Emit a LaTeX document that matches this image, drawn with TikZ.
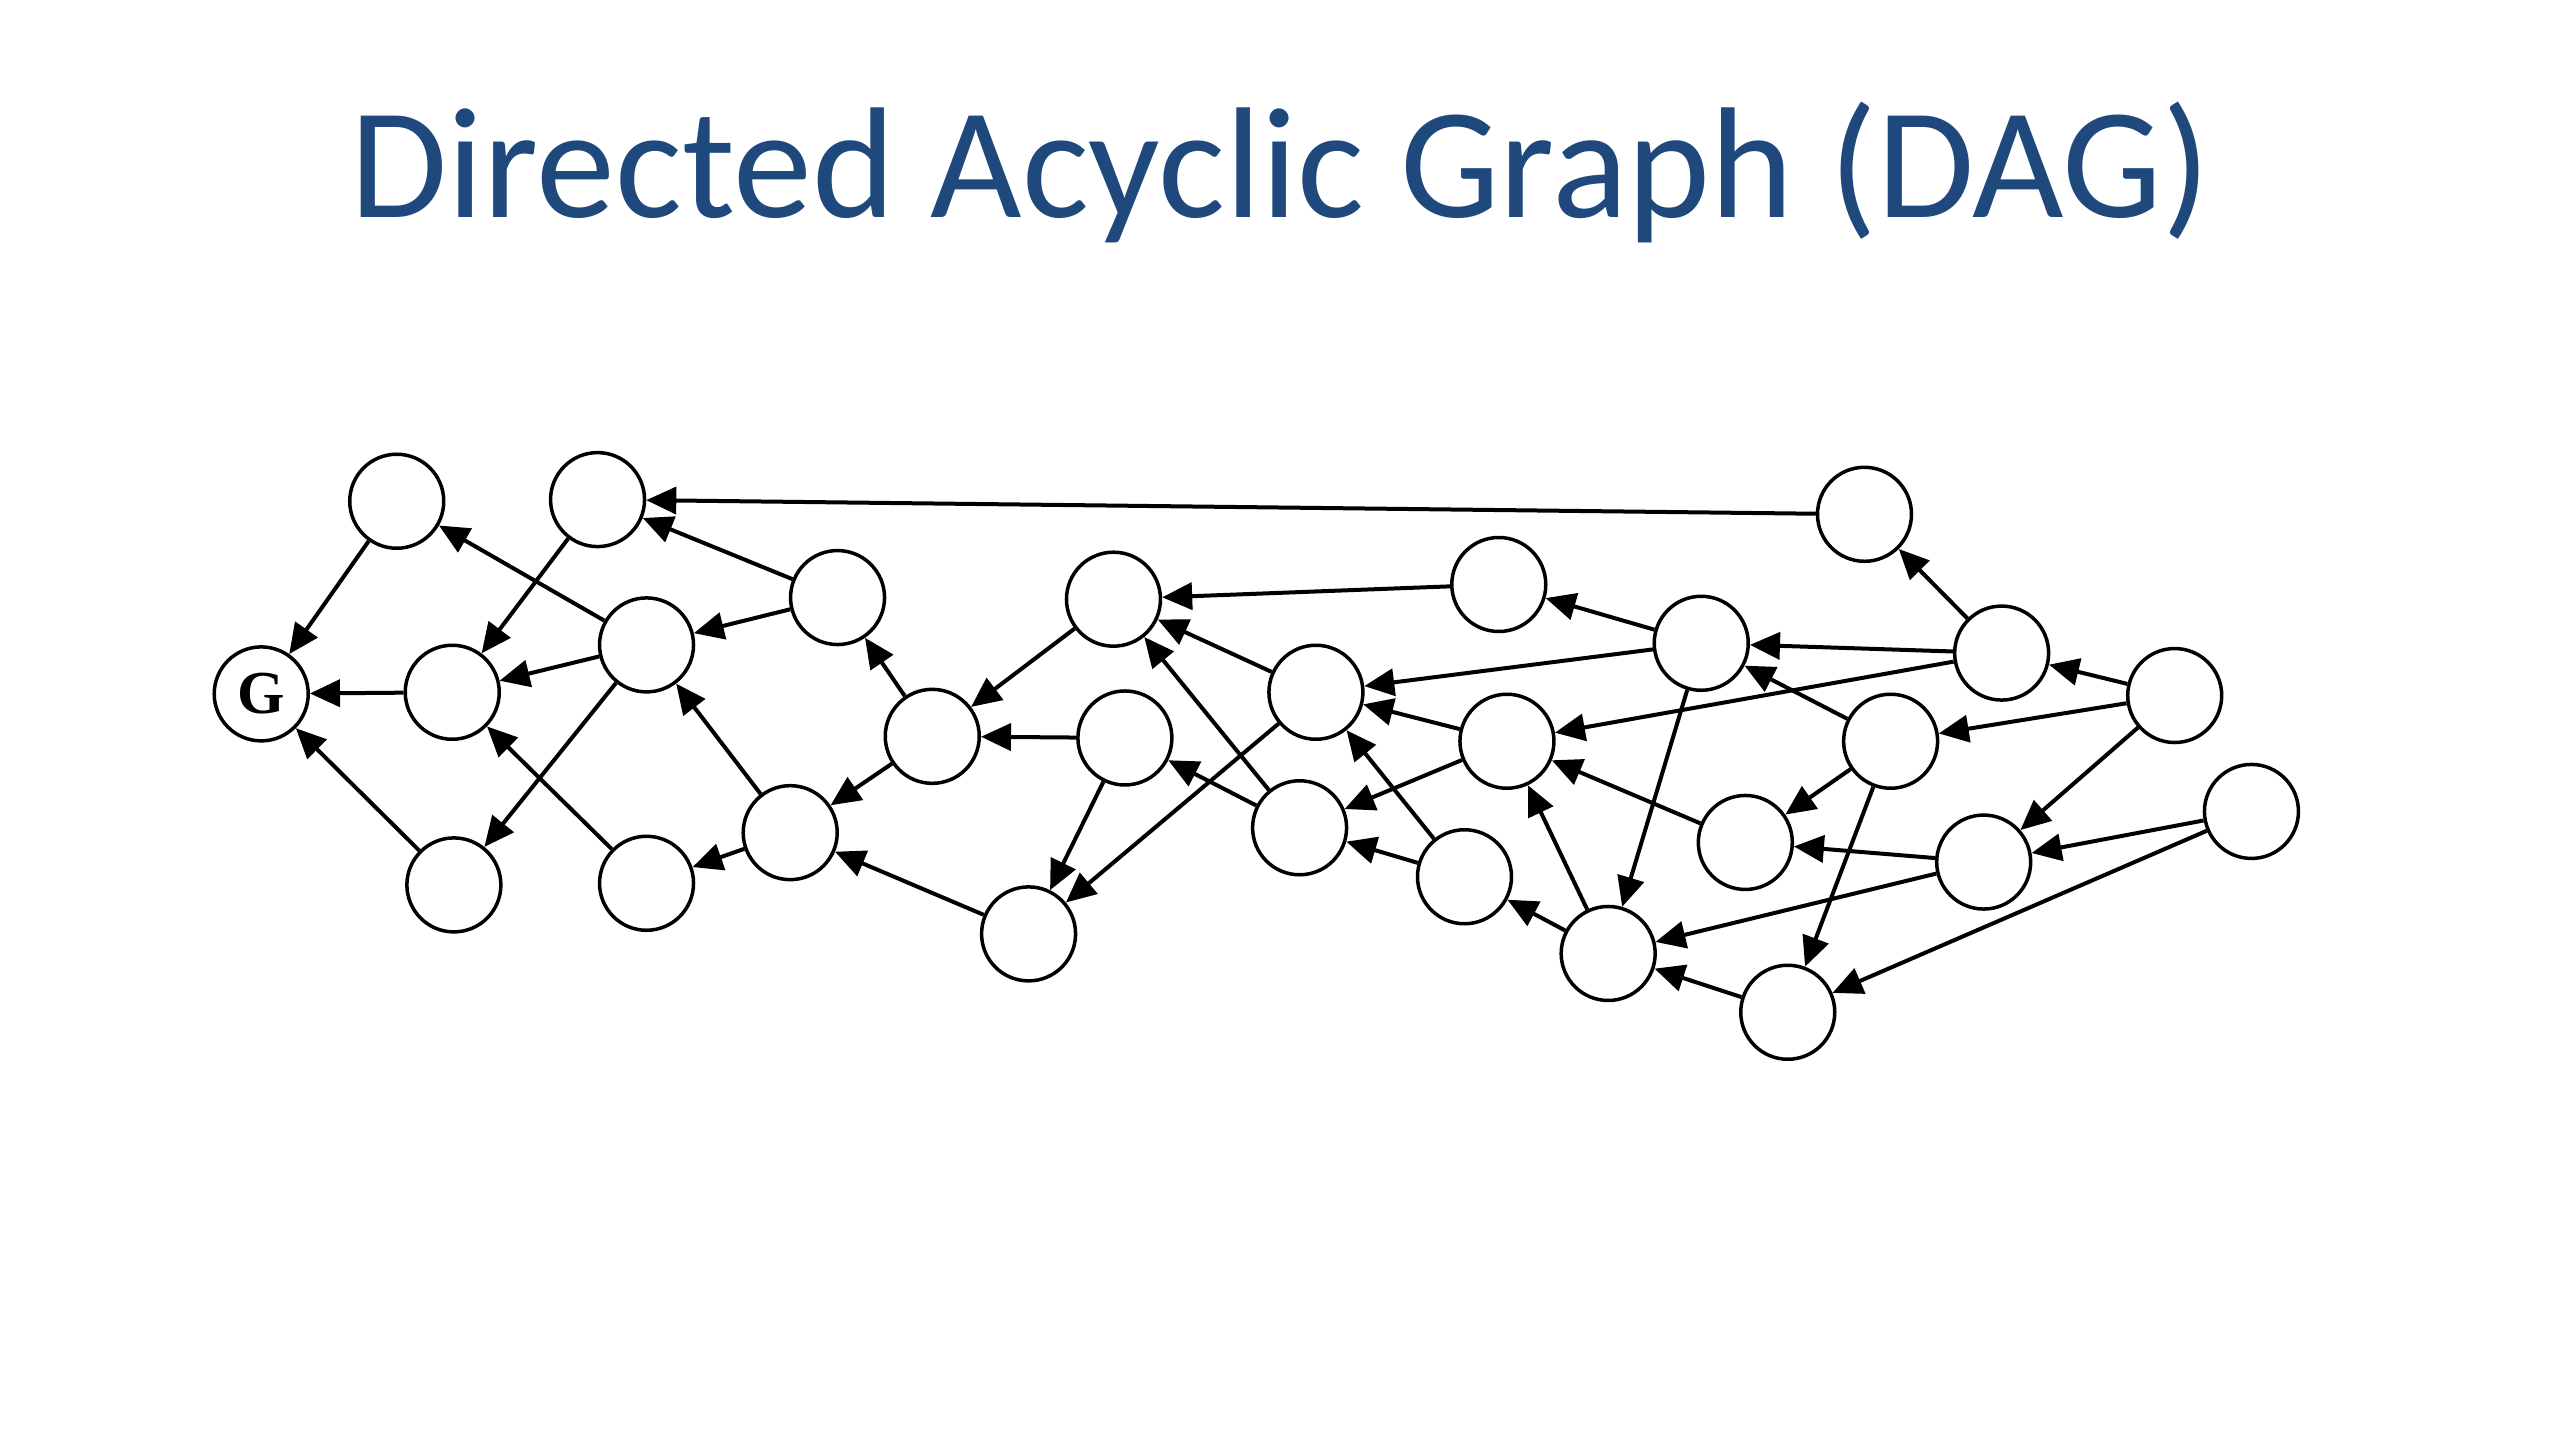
\documentclass[tikz,border=0pt]{standalone}
\usepackage{fontspec}
\setmainfont{Liberation Serif}
\newfontfamily\titlefont{Carlito}
\usetikzlibrary{arrows.meta}
\definecolor{titleblue}{HTML}{1F497D}
\begin{document}
\begin{tikzpicture}[x=1.6327pt,y=-1.6327pt,
  dagnode/.style={circle,draw=black,line width=3.5pt,fill=white,minimum size=94pt,inner sep=0pt},
  edge/.style={line width=4pt,-{Triangle[length=30pt,width=27pt]}}]
\useasboundingbox[fill=white] (0,0) rectangle (1568,882);
\node[anchor=base,text=titleblue,inner sep=0pt,font=\titlefont\fontsize{158}{190}\selectfont] (title) at (784,133) {Directed Acyclic Graph (DAG)};
% nodes
\node[dagnode,font=\bfseries\fontsize{61}{61}\selectfont] (G) at (160,425) {G};
\node[dagnode] (A1) at (243,307) {};
\node[dagnode] (A2) at (366,306) {};
\node[dagnode] (B1) at (277,424) {};
\node[dagnode] (C1) at (278,542) {};
\node[dagnode] (D) at (396,395) {};
\node[dagnode] (E) at (396,541) {};
\node[dagnode] (F) at (513,366) {};
\node[dagnode] (H) at (484,510) {};
\node[dagnode] (I) at (571,451) {};
\node[dagnode] (J) at (682,367) {};
\node[dagnode] (K) at (689,452) {};
\node[dagnode] (L) at (630,572) {};
\node[dagnode] (M) at (918,358) {};
\node[dagnode] (N) at (806,424) {};
\node[dagnode] (O) at (796,507) {};
\node[dagnode] (P) at (923,454) {};
\node[dagnode] (Q) at (897,537) {};
\node[dagnode] (R) at (1042,394) {};
\node[dagnode] (S) at (985,584) {};
\node[dagnode] (T) at (1142,315) {};
\node[dagnode] (U) at (1226,400) {};
\node[dagnode] (V) at (1158,454) {};
\node[dagnode] (W) at (1069,516) {};
\node[dagnode] (X) at (1332,426) {};
\node[dagnode] (Y) at (1215,528) {};
\node[dagnode] (Z) at (1379,497) {};
\node[dagnode] (AA) at (1095,620) {};
% edges
\draw[edge] (A1) -- (G);
\draw[edge] (B1) -- (G);
\draw[edge] (C1) -- (G);
\draw[edge] (A2) -- (B1);
\draw[edge] (D) -- (A1);
\draw[edge] (D) -- (B1);
\draw[edge] (D) -- (C1);
\draw[edge] (E) -- (B1);
\draw[edge] (H) -- (D);
\draw[edge] (H) -- (E);
\draw[edge] (F) -- (D);
\draw[edge] (F) -- (A2);
\draw[edge] (T) -- (A2);
\draw[edge] (I) -- (F);
\draw[edge] (J) -- (I);
\draw[edge] (K) -- (I);
\draw[edge] (I) -- (H);
\draw[edge] (L) -- (H);
\draw[edge] (K) -- (L);
\draw[edge] (N) -- (L);
\draw[edge] (M) -- (J);
\draw[edge] (N) -- (J);
\draw[edge] (O) -- (J);
\draw[edge] (O) -- (K);
\draw[edge] (R) -- (M);
\draw[edge] (U) -- (R);
\draw[edge] (V) -- (R);
\draw[edge] (R) -- (N);
\draw[edge] (U) -- (P);
\draw[edge] (P) -- (N);
\draw[edge] (P) -- (O);
\draw[edge] (Q) -- (N);
\draw[edge] (Q) -- (O);
\draw[edge] (S) -- (Q);
\draw[edge] (S) -- (P);
\draw[edge] (R) -- (S);
\draw[edge] (W) -- (P);
\draw[edge] (V) -- (W);
\draw[edge] (Y) -- (W);
\draw[edge] (Y) -- (S);
\draw[edge] (V) -- (AA);
\draw[edge] (AA) -- (S);
\draw[edge] (U) -- (T);
\draw[edge] (X) -- (U);
\draw[edge] (X) -- (V);
\draw[edge] (X) -- (Y);
\draw[edge] (Z) -- (Y);
\draw[edge] (Z) -- (AA);
\end{tikzpicture}
\end{document}
